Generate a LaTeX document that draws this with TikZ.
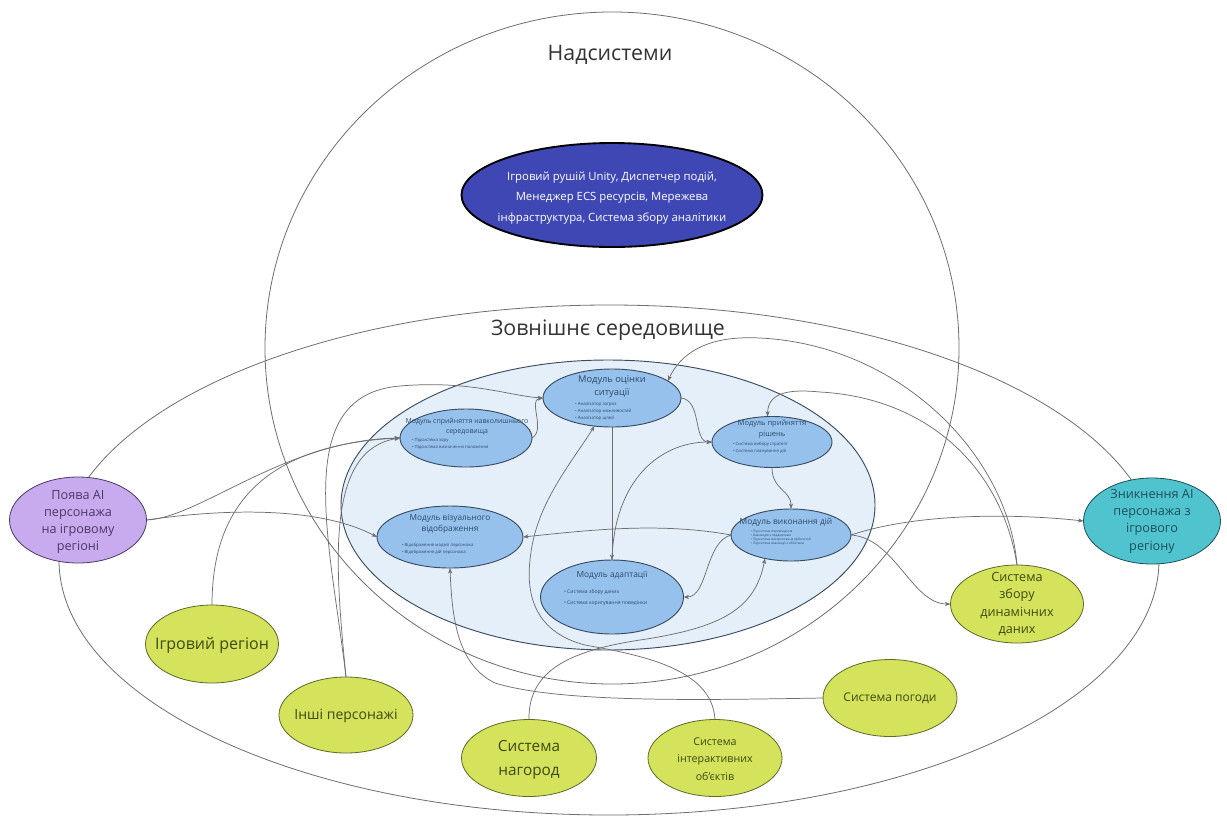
\documentclass[tikz,border=0pt]{standalone}
\usepackage{fontspec}
\setmainfont{Open Sans}
\usetikzlibrary{shapes.geometric,arrows.meta}
\definecolor{innerfill}{HTML}{E4EFFA}
\definecolor{modfill}{HTML}{95C1EC}
\definecolor{moddraw}{HTML}{3A4C60}
\definecolor{modtext}{HTML}{2E4A6A}
\definecolor{topfill}{HTML}{3F47B4}
\definecolor{purplefill}{HTML}{C8AAEE}
\definecolor{purpletext}{HTML}{4A3A66}
\definecolor{tealfill}{HTML}{4FC4CF}
\definecolor{tealtext}{HTML}{1F4F5A}
\definecolor{greenfill}{HTML}{D5E25B}
\definecolor{greendraw}{HTML}{5E6A28}
\definecolor{greentext}{HTML}{3C4A14}
\definecolor{linegray}{HTML}{6E6E6E}
\definecolor{titletext}{HTML}{333333}
\pgfdeclarelayer{zones}
\pgfdeclarelayer{lines}
\pgfsetlayers{zones,lines,main}
\begin{document}
\begin{tikzpicture}[x=0.75pt,y=-0.75pt,
  every node/.style={inner sep=0pt,outer sep=0pt},
  ell/.style={ellipse, draw, line width=0.6pt},
  zone/.style={ellipse, draw=linegray, line width=0.6pt},
  modnode/.style={ell, fill=modfill, draw=moddraw, line width=0.7pt},
  greennode/.style={ell, fill=greenfill, draw=greendraw, text=greentext, align=center},
  modt/.style={align=center, text=modtext},
  bul/.style={align=left, anchor=west, text=modtext},
  conn/.style={draw=linegray, line width=0.55pt},
  arr/.style={conn, -{Stealth[length=4pt,width=3pt,inset=1pt]}},
]
\begin{pgfonlayer}{zones}
\useasboundingbox (0,0) rectangle (1227,818);
\fill[white] (0,0) rectangle (1227,818);
\node[zone, minimum width=825pt, minimum height=382.5pt] (outer) at (609,560) {};
\node[zone, minimum width=520.5pt, minimum height=504pt] (super) at (612,348) {};
\node[ellipse, draw=moddraw, fill=innerfill, line width=0.7pt, minimum width=400.5pt, minimum height=217.5pt] (inner) at (608,505) {};
\end{pgfonlayer}

\node[text=titletext, font=\fontsize{16}{19}\selectfont] (tsuper) at (610,55) {Надсистеми};
\node[text=titletext, font=\fontsize{16}{19}\selectfont] (touter) at (608,330) {Зовнішнє середовище};

% top node
\node[ellipse, draw=black, line width=1.4pt, fill=topfill, minimum width=225.75pt, minimum height=78pt] (top) at (612,195) {};
\node[text=white, align=center, font=\fontsize{8.5}{15.5}\selectfont] (topt) at (612,198) {Ігровий рушій Unity, Диспетчер подій,\\Менеджер ECS ресурсів, Мережева\\інфраструктура, Система збору аналітики};

% module nodes
\node[modnode, minimum width=103.5pt, minimum height=43.5pt] (mots) at (612,398) {};
\node[modnode, minimum width=99pt, minimum height=43.5pt] (mspr) at (466,438) {};
\node[modnode, minimum width=90pt, minimum height=38.25pt] (mpr) at (772,442) {};
\node[modnode, minimum width=109.5pt, minimum height=46.5pt] (mviz) at (450,537) {};
\node[modnode, minimum width=90pt, minimum height=39pt] (mvyk) at (791,535) {};
\node[modnode, minimum width=107.25pt, minimum height=55.5pt] (mad) at (612,597) {};

% side nodes
\node[ell, fill=purplefill, draw=purpletext, minimum width=102.75pt, minimum height=64.5pt] (pojava) at (78,520) {};
\node[ell, fill=tealfill, draw=tealtext, minimum width=102.75pt, minimum height=64.5pt] (znyk) at (1152,521) {};

% green nodes
\node[greennode, minimum width=99.75pt, minimum height=58.5pt] (sbir) at (1017,604) {};
\node[greennode, minimum width=100.5pt, minimum height=57.75pt] (pogoda) at (890,698) {};
\node[greennode, minimum width=99.75pt, minimum height=58.5pt] (igr) at (212,644) {};
\node[greennode, minimum width=100.5pt, minimum height=57pt] (inshi) at (346,715) {};
\node[greennode, minimum width=101.25pt, minimum height=57.75pt] (nagorod) at (529,758) {};
\node[greennode, minimum width=100.5pt, minimum height=57.75pt] (interakt) at (715,758) {};

% connectors
\begin{pgfonlayer}{lines}
\draw[arr] (pojava.east) .. controls (200,518) and (285,440) .. (mspr.west);
\draw[arr] (pojava.east) .. controls (250,505) and (330,512) .. (mviz.west);
\draw[arr] (igr.north) .. controls (212,510) and (260,445) .. (mspr.west);
\draw[arr] (inshi.north) .. controls (335,565) and (325,450) .. (mspr.west);
\draw[arr] (inshi.north) .. controls (330,540) and (290,395) .. (400,386) .. controls (470,380) and (510,396) .. (mots.west);
\draw[arr] (mspr.east) .. controls (546,430) and (528,400) .. (mots.west);
\draw[arr] (mots.east) .. controls (702,400) and (693,442) .. (mpr.west);
\draw[arr] (mots.south) -- (mad.north);
\draw[arr] (mpr.south) .. controls (772,490) and (791,490) .. (mvyk.north);
\draw[arr] (mvyk.west) .. controls (660,522) and (590,530) .. (mviz.east);
\draw[arr] (mvyk.west) .. controls (705,542) and (708,597) .. (mad.east);
\draw[arr] (mad.north) .. controls (614,480) and (660,442) .. (mpr.west);
\draw[arr] (mvyk.east) .. controls (920,512) and (1020,514) .. (znyk.west);
\draw[arr] (mvyk.east) .. controls (895,538) and (912,604) .. (sbir.west);
\draw[arr] (sbir.north) .. controls (1008,455) and (900,345) .. (760,338) .. controls (705,335) and (680,355) .. (mots.17);
\draw[arr] (sbir.north) .. controls (1002,470) and (930,398) .. (820,392) .. controls (790,389) and (768,392) .. (mpr.100);
\draw[arr] (pogoda.west) .. controls (700,700) and (560,703) .. (495,683) .. controls (458,665) and (452,620) .. (mviz.south);
\draw[arr] (nagorod.north) .. controls (528,668) and (575,650) .. (640,640) .. controls (720,628) and (755,610) .. (mvyk.222);
\draw[arr] (interakt.north) .. controls (712,668) and (640,655) .. (585,645) .. controls (535,632) and (526,595) .. (530,560) .. controls (535,505) and (570,465) .. (mots.238);
\end{pgfonlayer}

% module texts
\node[modt, font=\fontsize{7}{9.75}\selectfont] (motst) at (612,387) {Модуль оцінки\\ситуації};
\node[bul, font=\fontsize{3.3}{5.25}\selectfont] (motsl) at (575,411) {• Аналізатор загроз\\• Аналізатор можливостей\\• Аналізатор цілей};

\node[modt, font=\fontsize{5.2}{7.5}\selectfont] (msprt) at (467,427) {Модуль сприйняття навколишнього\\середовища};
\node[bul, font=\fontsize{3.2}{5.25}\selectfont] (msprl) at (412,443.5) {• Підсистема зору\\• Підсистема визначення положення};

\node[modt, font=\fontsize{5.6}{8.25}\selectfont] (mprt) at (772,429.5) {Модуль прийняття\\рішень};
\node[bul, font=\fontsize{3.2}{5.25}\selectfont] (mprl) at (733,447.5) {• Система вибору стратегії\\• Система планування дій};

\node[modt, font=\fontsize{6.2}{8.25}\selectfont] (mvizt) at (450,523.5) {Модуль візуального\\відображення};
\node[bul, font=\fontsize{3.2}{5.25}\selectfont] (mvizl) at (402,548.5) {• Відображення моделі персонажа\\• Відображення дій персонажа};

\node[modt, font=\fontsize{6.3}{8}\selectfont] (mvykt) at (786,522) {Модуль виконання дій};
\node[bul, font=\fontsize{2.4}{3}\selectfont] (mvykl) at (751,538) {• Підсистема переміщення\\• Взаємодія з предметами\\• Підсистема використання здібностей\\• Підсистема взаємодії з об’єктами};

\node[modt, font=\fontsize{6.3}{8}\selectfont] (madt) at (612,575) {Модуль адаптації};
\node[bul, font=\fontsize{3.8}{8.25}\selectfont] (madl) at (564,597.5) {• Система збору даних\\• Система коригування поведінки};

% side texts
\node[align=center, text=purpletext, font=\fontsize{9.5}{12.75}\selectfont] (pojavat) at (78,522) {Поява AI\\персонажа\\на ігровому\\регіоні};
\node[align=center, text=tealtext, font=\fontsize{9.5}{13}\selectfont] (znykt) at (1152,521) {Зникнення AI\\персонажа з\\ігрового\\регіону};

% green texts
\node[align=center, text=greentext, font=\fontsize{9.5}{13}\selectfont] (sbirt) at (1017,604) {Система\\збору\\динамічних\\даних};
\node[align=center, text=greentext, font=\fontsize{9}{11}\selectfont] (pogodat) at (890,698) {Система погоди};
\node[align=center, text=greentext, font=\fontsize{12}{14}\selectfont] (igrt) at (212,645) {Ігровий регіон};
\node[align=center, text=greentext, font=\fontsize{10.5}{13}\selectfont] (inshit) at (346,716) {Інші персонажі};
\node[align=center, text=greentext, font=\fontsize{11.5}{18}\selectfont] (nagorodt) at (529,760) {Система\\нагород};
\node[align=center, text=greentext, font=\fontsize{8}{13}\selectfont] (interaktt) at (715,759) {Система\\інтерактивних\\об’єктів};
\end{tikzpicture}
\end{document}
